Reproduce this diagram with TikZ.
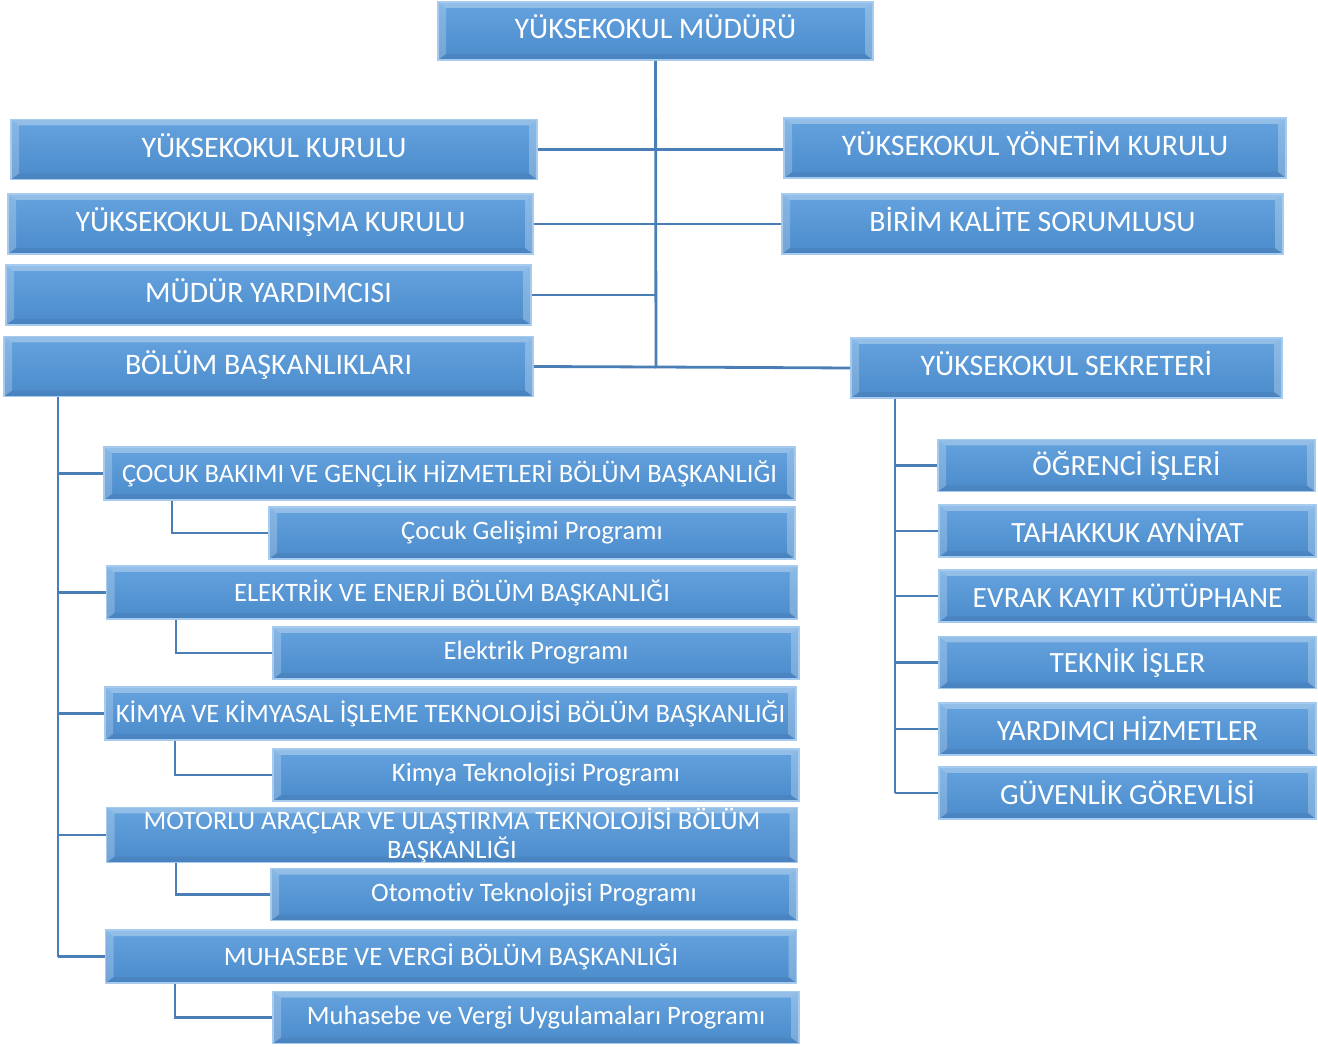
\documentclass[tikz,border=0pt]{standalone}
\usepackage{fontspec}
\setmainfont[Ligatures=NoCommon]{Carlito}
\usetikzlibrary{positioning}

\definecolor{boxtop}{HTML}{64A3DE}
\definecolor{boxbot}{HTML}{4C8BCB}
\definecolor{boxedge}{HTML}{A6CBEE}
\definecolor{wire}{HTML}{4A7EB6}

\begin{document}
\begin{tikzpicture}[
				x=0.5pt, y=-0.5pt,
				block/.style={draw=boxedge, line width=0.8pt, top color=boxtop, bottom color=boxbot,
					text=white, align=center, inner sep=1pt, font=\fontsize{14.9}{16}\selectfont,
					path picture={
						\fill[white, opacity=0.30] (path picture bounding box.north west) -- (path picture bounding box.north east)
							-- ([xshift=-4pt, yshift=-3pt]path picture bounding box.north east) -- ([xshift=4pt, yshift=-3pt]path picture bounding box.north west) -- cycle;
						\fill[white, opacity=0.22] (path picture bounding box.north west) -- ([xshift=4pt, yshift=-3pt]path picture bounding box.north west)
							-- ([xshift=4pt, yshift=3pt]path picture bounding box.south west) -- (path picture bounding box.south west) -- cycle;
						\fill[white, opacity=0.26] (path picture bounding box.north east) -- ([xshift=-4pt, yshift=-3pt]path picture bounding box.north east)
							-- ([xshift=-4pt, yshift=3pt]path picture bounding box.south east) -- (path picture bounding box.south east) -- cycle;
						\fill[black, opacity=0.05] (path picture bounding box.south west) -- (path picture bounding box.south east)
							-- ([xshift=-4pt, yshift=3pt]path picture bounding box.south east) -- ([xshift=4pt, yshift=3pt]path picture bounding box.south west) -- cycle;
					}},
				head/.style={block, minimum height=30pt, text height=10pt, text depth=2.4pt},
				office/.style={block, minimum width=188.5pt, minimum height=26pt, font=\fontsize{14.7}{16}\selectfont},
				dept/.style={block, minimum width=345.5pt, minimum height=26.5pt, font=\fontsize{13.3}{14.6}\selectfont},
				prog/.style={block, minimum width=263pt, minimum height=26pt, font=\fontsize{13.3}{15}\selectfont},
				link/.style={draw=wire, line width=1.4pt}
			]
				\useasboundingbox (0,0) rectangle (1318,1047);

				% top level
				\node[head, minimum width=217.5pt, minimum height=29pt] (mudur) at (655.5,31) {YÜKSEKOKUL MÜDÜRÜ};
				\node[head, minimum width=263pt] (kurul) at (274,149.5) {YÜKSEKOKUL KURULU};
				\node[head, minimum width=251pt] (yonetim) at (1035,148) {YÜKSEKOKUL YÖNETİM KURULU};
				\node[head, minimum width=262.5pt] (danisma) at (270.5,224) {YÜKSEKOKUL DANIŞMA KURULU};
				\node[head, minimum width=250.5pt] (kalite) at (1032.5,224) {BİRİM KALİTE SORUMLUSU};
				\node[head, minimum width=262.5pt] (yardimci) at (268.5,295) {MÜDÜR YARDIMCISI};
				\node[head, minimum width=264.5pt] (bolum) at (268.5,366.5) {BÖLÜM BAŞKANLIKLARI};
				\node[head, minimum width=215.5pt] (sekreter) at (1066.5,368) {YÜKSEKOKUL SEKRETERİ};

				% secretary offices
				\node[office] (ogrenci) at (1126.5,465.5) {ÖĞRENCİ İŞLERİ};
				\node[office] (tahakkuk) at (1127.5,531) {TAHAKKUK AYNİYAT};
				\node[office] (evrak) at (1127.5,596) {EVRAK KAYIT KÜTÜPHANE};
				\node[office] (teknik) at (1127.5,662.5) {TEKNİK İŞLER};
				\node[office] (hizmet) at (1127.5,729) {YARDIMCI HİZMETLER};
				\node[office] (guvenlik) at (1127.5,793) {GÜVENLİK GÖREVLİSİ};

				% departments and programmes
				\node[dept] (cocuk) at (449.5,473.5) {ÇOCUK BAKIMI VE GENÇLİK HİZMETLERİ BÖLÜM BAŞKANLIĞI};
				\node[prog] (cocukp) at (532,533) {Çocuk Gelişimi Programı};
				\node[dept] (elektrik) at (452,592.5) {ELEKTRİK VE ENERJİ BÖLÜM BAŞKANLIĞI};
				\node[prog] (elektrikp) at (536,653) {Elektrik Programı};
				\node[dept] (kimya) at (450.5,713.5) {KİMYA VE KİMYASAL İŞLEME TEKNOLOJİSİ BÖLÜM BAŞKANLIĞI};
				\node[prog] (kimyap) at (536,775) {Kimya Teknolojisi Programı};
				\node[dept, inner sep=0pt] (motor) at (452,835) {\raisebox{9pt}{}MOTORLU ARAÇLAR VE ULAŞTIRMA TEKNOLOJİSİ BÖLÜM\\BAŞKANLIĞI};
				\node[prog] (motorp) at (534,894.5) {Otomotiv Teknolojisi Programı};
				\node[dept] (muhasebe) at (451,956.5) {MUHASEBE VE VERGİ BÖLÜM BAŞKANLIĞI};
				\node[prog] (muhasebep) at (536,1017.5) {Muhasebe ve Vergi Uygulamaları Programı};

				% main spine
				\coordinate (spine) at (656,367);
				\draw[link] (mudur.south) -- (spine) -- (sekreter.west);
				\draw[link] (kurul.east) -- (yonetim.west |- kurul.east);
				\draw[link] (danisma.east) -- (kalite.west);
				\draw[link] (yardimci.east) -- (yardimci.east -| spine);
				\draw[link] (bolum.east) -- (spine);

				% secretary tree
				\draw[link] (sekreter.south -| 895,0) -- (guvenlik.west -| 895,0);
				\foreach \n in {ogrenci, tahakkuk, evrak, teknik, hizmet, guvenlik}
					\draw[link] (\n.west) -- (\n.west -| 895,0);

				% department tree
				\draw[link] (bolum.south -| 58,0) -- (muhasebe.west -| 58,0);
				\foreach \n in {cocuk, elektrik, kimya, motor, muhasebe}
					\draw[link] (\n.west) -- (\n.west -| 58,0);
				\foreach \d/\p/\x in {cocuk/cocukp/172, elektrik/elektrikp/176, kimya/kimyap/175, motor/motorp/176, muhasebe/muhasebep/175}
					\draw[link] (\d.south -| \x,0) |- (\p.west);
			\end{tikzpicture}
\end{document}
